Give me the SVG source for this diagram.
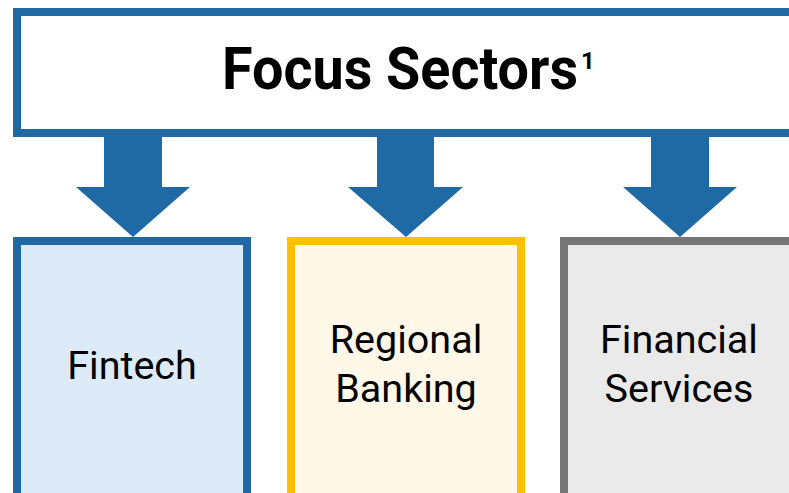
<svg xmlns="http://www.w3.org/2000/svg" width="789" height="493" viewBox="0 0 789 493">
  <style>
    .title { font-family: Roboto, "Liberation Sans", sans-serif; font-weight: bold; font-size: 59px; fill: #000; }
    .sup { font-family: Roboto, "Liberation Sans", sans-serif; font-weight: bold; font-size: 24px; fill: #000; }
    .label { font-family: Roboto, "Liberation Sans", sans-serif; font-size: 39.5px; fill: #000; text-anchor: middle; }
    .arrow { fill: #1F6AA5; }
  </style>
  <rect width="789" height="493" fill="#FFFFFF"/>
  <g id="header">
    <rect x="17" y="12" width="790" height="121" fill="#FFFFFF" stroke="#1F6AA5" stroke-width="8"/>
    <text class="title" x="222" y="89" textLength="356" lengthAdjust="spacingAndGlyphs">Focus Sectors</text>
    <text class="sup" x="581" y="69">1</text>
  </g>
  <g id="connectors">
    <polygon class="arrow" points="104,137 162,137 162,187 190,187 133,237 76,187 104,187"/>
    <polygon class="arrow" points="377,137 434,137 434,187 463,187 406,237 348,187 377,187"/>
    <polygon class="arrow" points="651,137 709,137 709,187 737,187 680,237 623,187 651,187"/>
  </g>
  <g id="fintech">
    <rect x="17" y="241" width="230" height="256" fill="#DDEAF7" stroke="#1F6AA5" stroke-width="8"/>
    <text class="label" x="132" y="379">Fintech</text>
  </g>
  <g id="regional-banking">
    <rect x="291" y="241" width="230" height="256" fill="#FFF7E8" stroke="#FFC000" stroke-width="8"/>
    <text class="label" x="406" y="353">Regional</text>
    <text class="label" x="406" y="402">Banking</text>
  </g>
  <g id="financial-services">
    <rect x="564" y="241" width="230" height="256" fill="#EAEAEA" stroke="#767676" stroke-width="8"/>
    <text class="label" x="679" y="353">Financial</text>
    <text class="label" x="679" y="402">Services</text>
  </g>
</svg>
